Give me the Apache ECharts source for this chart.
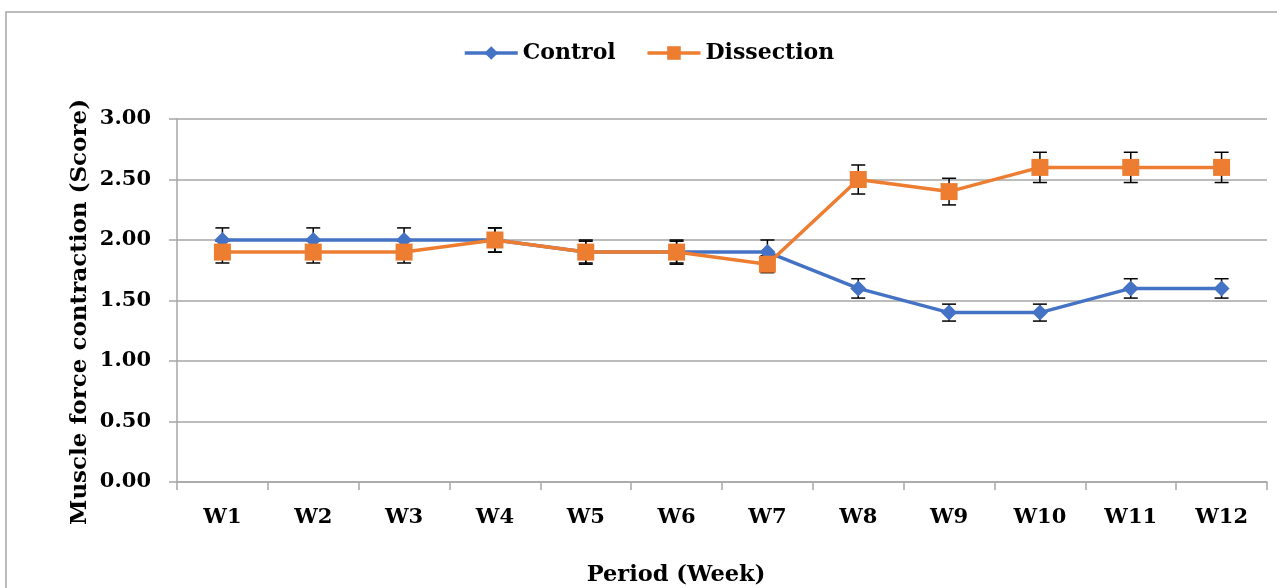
<!DOCTYPE html>
<html>
<head>
<meta charset="utf-8">
<script src="https://cdn.jsdelivr.net/npm/echarts@6/dist/echarts.min.js"></script>
<style>html,body{margin:0;padding:0;background:#fff}#c{width:1277px;height:588px}</style>
</head>
<body>
<div id="c"></div>
<script>
var categories = ['W1','W2','W3','W4','W5','W6','W7','W8','W9','W10','W11','W12'];
var controlValues = [2.0,2.0,2.0,2.0,1.9,1.9,1.9,1.6,1.4,1.4,1.6,1.6];
var controlErrors = [0.1,0.1,0.1,0.1,0.1,0.1,0.1,0.08,0.07,0.07,0.08,0.08];
var dissectionValues = [1.9,1.9,1.9,2.0,1.9,1.9,1.8,2.5,2.4,2.6,2.6,2.6];
var dissectionErrors = [0.09,0.09,0.09,0.1,0.09,0.09,0.07,0.12,0.11,0.125,0.125,0.125];
var yTicks = [0,0.5,1,1.5,2,2.5,3];
var xTitle = 'Period (Week)';
var yTitle = 'Muscle force contraction (Score)';

var FONT = 'DejaVu Serif';
function errData(vals, errs){
  return vals.map(function(v,i){ return [i, v - errs[i], v + errs[i]]; });
}
function errRender(params, api){
  var x = api.value(0);
  var lo = api.coord([x, api.value(1)]);
  var hi = api.coord([x, api.value(2)]);
  var w = 7;
  var st = {stroke:'#000', lineWidth:1.5};
  return {type:'group', children:[
    {type:'line', shape:{x1:lo[0],y1:lo[1],x2:hi[0],y2:hi[1]}, style:st},
    {type:'line', shape:{x1:lo[0]-w,y1:lo[1],x2:lo[0]+w,y2:lo[1]}, style:st},
    {type:'line', shape:{x1:hi[0]-w,y1:hi[1],x2:hi[0]+w,y2:hi[1]}, style:st}
  ]};
}
var chart = echarts.init(document.getElementById('c'));
chart.setOption({
  animation:false,
  backgroundColor:'#fff',
  graphic:[
    {type:'rect', shape:{x:6,y:12,width:1400,height:700}, style:{fill:'none', stroke:'#a6a6a6', lineWidth:1.5}, z:-1},
    {type:'text', x:676, y:575, style:{text:xTitle, align:'center', verticalAlign:'middle', fontFamily:FONT, fontWeight:'bold', fontSize:22.5, fill:'#000'}},
    {type:'text', x:80, y:312, rotation:Math.PI/2, style:{text:yTitle, align:'center', verticalAlign:'middle', fontFamily:FONT, fontWeight:'bold', fontSize:23, fill:'#000'}}
  ],
  legend:{
    top:37, left:458, itemWidth:53, itemHeight:17, itemGap:30,
    lineStyle:{width:3.5},
    textStyle:{fontFamily:FONT, fontWeight:'bold', fontSize:22, color:'#000'},
    data:['Control','Dissection']
  },
  grid:{left:177, right:10, top:119, bottom:106, containLabel:false},
  xAxis:{
    type:'category', data:categories, boundaryGap:true,
    axisLine:{lineStyle:{color:'#a6a6a6', width:1.5}},
    axisTick:{show:true, length:8, lineStyle:{color:'#a6a6a6', width:1.5}},
    axisLabel:{fontFamily:FONT, fontWeight:'bold', fontSize:21, color:'#000', margin:25}
  },
  yAxis:{
    type:'value', min:0, max:3, interval:0.5,
    axisLine:{show:true, lineStyle:{color:'#a6a6a6', width:1.5}},
    axisTick:{show:true, length:8, lineStyle:{color:'#a6a6a6', width:1.5}},
    splitLine:{lineStyle:{color:'#a6a6a6', width:1.5}},
    axisLabel:{fontFamily:FONT, fontWeight:'bold', fontSize:21, color:'#000', margin:26,
      formatter:function(v){ return yTicks.indexOf(v) >= 0 ? v.toFixed(2) : ''; }}
  },
  series:[
    {name:'Control', type:'line', data:controlValues, symbol:'diamond', symbolSize:16,
     itemStyle:{color:'#4472C4'}, lineStyle:{color:'#4472C4', width:3.5}, z:3},
    {name:'Dissection', type:'line', data:dissectionValues, symbol:'rect', symbolSize:17,
     itemStyle:{color:'#ED7D31'}, lineStyle:{color:'#ED7D31', width:3.5}, z:4},
    {type:'custom', renderItem:errRender, data:errData(controlValues, controlErrors),
     encode:{x:0, y:[1,2]}, z:2, silent:true},
    {type:'custom', renderItem:errRender, data:errData(dissectionValues, dissectionErrors),
     encode:{x:0, y:[1,2]}, z:2, silent:true}
  ]
});
</script>
</body>
</html>
